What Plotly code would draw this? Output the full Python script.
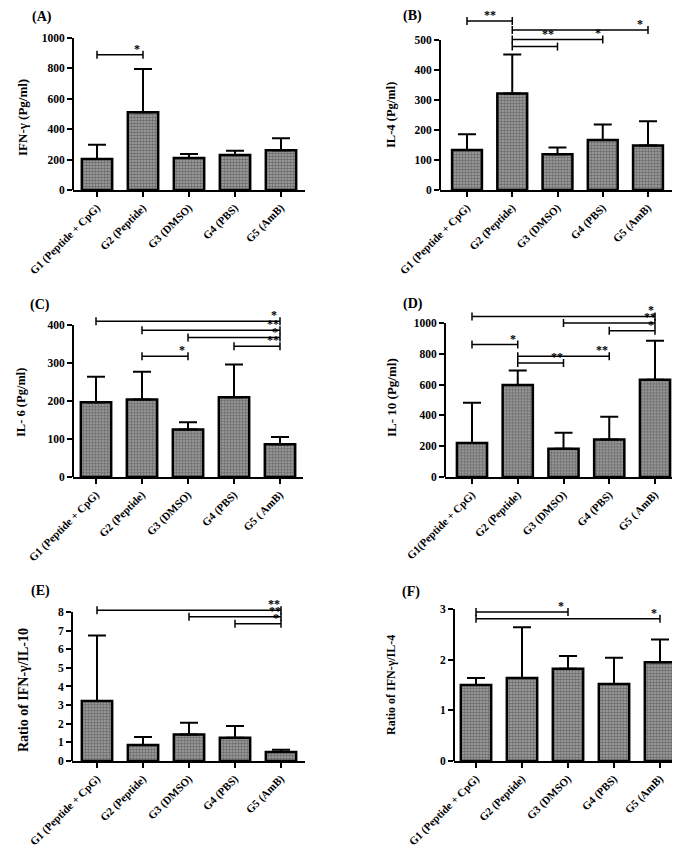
import plotly.graph_objects as go

W, H = 680, 848
FONT = "Liberation Serif"

# ---------------- data ----------------
groups_std = ["G1 (Peptide + CpG)", "G2 (Peptide)", "G3 (DMSO)", "G4 (PBS)", "G5 (AmB)"]
groups_c = ["G1 (Peptide + CpG)", "G2 (Peptide)", "G3 (DMSO)", "G4 (PBS)", "G5 ( AmB)"]
groups_d = ["G1(Peptide + CpG)", "G2 (Peptide)", "G3 (DMSO)", "G4 (PBS)", "G5 ( AmB)"]

ifng_mean = [204, 512, 211, 231, 262]
ifng_sd = [93, 284, 26, 28, 79]
il4_mean = [133, 322, 119, 167, 148]
il4_sd = [53, 130, 23, 51, 81]
il6_mean = [197, 204, 125, 210, 86]
il6_sd = [67, 73, 19, 86, 19]
il10_mean = [220, 598, 184, 244, 631]
il10_sd = [262, 93, 103, 147, 254]
ratio_il10_mean = [3.22, 0.86, 1.42, 1.25, 0.48]
ratio_il10_sd = [3.52, 0.43, 0.64, 0.63, 0.13]
ratio_il4_mean = [1.50, 1.64, 1.82, 1.52, 1.95]
ratio_il4_sd = [0.14, 1.00, 0.25, 0.52, 0.45]

# significance comparisons: (group i, group j, bracket level, label)
comps_a = [(0, 1, 890, "*")]
comps_b = [(0, 1, 563, "**"), (1, 4, 533, "*"), (1, 3, 502, "*"), (1, 2, 478, "**")]
comps_c = [(0, 4, 410, "*"), (1, 4, 386, "**"), (2, 4, 367, "*"), (3, 4, 344, "**"), (1, 2, 318, "*")]
comps_d = [(0, 4, 1043, "*"), (2, 4, 1000, "**"), (3, 4, 950, "*"), (0, 1, 860, "*"),
           (1, 3, 784, "**"), (1, 2, 741, "**")]
comps_e = [(0, 4, 8.1, "**"), (2, 4, 7.75, "**"), (3, 4, 7.37, "*")]
comps_f = [(0, 2, 2.94, "*"), (0, 4, 2.81, "*")]

# ---------------- styling / placement ----------------
panels = [
    dict(letter="(A)", cats=groups_std, mean=ifng_mean, sd=ifng_sd, ytitle="IFN-γ (Pg/ml)", tsize=13,
         top=1000, dtick=200, comps=comps_a, lab=[(0.86, 0)],
         px=(65, 297, 89, 273, 182, 30), tpx=(14, 110), lpx=(22, 9)),
    dict(letter="(B)", cats=groups_std, mean=il4_mean, sd=il4_sd, ytitle="IL-4 (Pg/ml)", tsize=12.5,
         top=500, dtick=100, comps=comps_b, lab=[(0.5, 0), (0.94, 0), (0.95, 0), (0.78, 7)],
         px=(432, 665, 459, 640, 182, 32), tpx=(383, 107), lpx=(393, 8)),
    dict(letter="(C)", cats=groups_c, mean=il6_mean, sd=il6_sd, ytitle="IL- 6 (Pg/ml)", tsize=12.5,
         top=400, dtick=100, comps=comps_c, lab=[(0.97, 0), (0.95, 0), (0.95, 0), (0.85, 0), (0.86, 0)],
         px=(65, 295, 88, 272, 469, 317), tpx=(13, 395), lpx=(20, 297)),
    dict(letter="(D)", cats=groups_d, mean=il10_mean, sd=il10_sd, ytitle="IL- 10 (Pg/ml)", tsize=13,
         top=1000, dtick=200, comps=comps_d, lab=[(0.98, 0), (0.94, 0), (0.91, 0), (0.89, 0), (0.92, 0), (0.85, 0)],
         px=(437, 670, 464, 647, 469, 315), tpx=(383, 390), lpx=(393, 296)),
    dict(letter="(E)", cats=groups_std, mean=ratio_il10_mean, sd=ratio_il10_sd, ytitle="Ratio of IFN-γ/IL-10", tsize=14,
         top=8, dtick=1, comps=comps_e, lab=[(0.96, 0), (0.93, 0), (0.9, 0)],
         px=(64, 297, 89, 273, 753, 604), tpx=(15, 682), lpx=(21, 583)),
    dict(letter="(F)", cats=groups_std, mean=ratio_il4_mean, sd=ratio_il4_sd, ytitle="Ratio of IFN-γ/IL-4", tsize=12,
         top=3, dtick=1, comps=comps_f, lab=[(0.92, 0), (0.97, 0)],
         px=(446, 673, 468, 652, 753, 601), tpx=(383, 677), lpx=(392, 584)),
]

fig = go.Figure()
layout = dict(width=W, height=H, margin=dict(l=0, r=0, t=0, b=0),
              paper_bgcolor="white", plot_bgcolor="white", showlegend=False,
              font=dict(family=FONT, color="black"))
annotations = []
shapes = []

for k, p in enumerate(panels, start=1):
    xa = "x" if k == 1 else f"x{k}"
    ya = "y" if k == 1 else f"y{k}"
    xl, xr, c1, c5, y0, ytop = p["px"]
    s = (c5 - c1) / 4.0
    ppu = (y0 - ytop) / p["top"]
    d = 4.0 / ppu
    levels = [c[2] for c in p["comps"]]
    rtop = max(p["top"], max(levels) + 6.0 / ppu)
    xrange = [(xl - c1) / s, 4 + (xr - c5) / s]
    dom_top_px = y0 - rtop * ppu
    xs = list(range(len(p["cats"])))

    fig.add_trace(go.Bar(
        x=xs, y=p["mean"], width=0.66, xaxis=xa, yaxis=ya, hoverinfo="skip",
        error_y=dict(type="data", array=p["sd"], arrayminus=[0] * len(xs), symmetric=False,
                     color="black", thickness=2, width=9),
        marker=dict(color="#8c8c8c", line=dict(color="black", width=2.5),
                    pattern=dict(shape=".", fgcolor="#2e2e2e", bgcolor="#a6a6a6", size=3, solidity=0.55)),
    ))

    for (i, j, lvl, lab), (frac, dy) in zip(p["comps"], p["lab"]):
        fig.add_trace(go.Scatter(
            x=[i, i, None, i, j, None, j, j],
            y=[lvl - d, lvl + d, None, lvl, lvl, None, lvl - d, lvl + d],
            mode="lines", line=dict(color="black", width=1.5),
            xaxis=xa, yaxis=ya, hoverinfo="skip", cliponaxis=False))
        annotations.append(dict(x=i + frac * (j - i), y=lvl, xref=xa, yref=ya, text=lab,
                                showarrow=False, yanchor="bottom", xanchor="center",
                                yshift=-3 + dy,
                                font=dict(family=FONT, size=12, weight="bold", color="black")))

    layout["xaxis" if k == 1 else f"xaxis{k}"] = dict(
        domain=[xl / W, xr / W], range=xrange, anchor=ya,
        tickvals=xs, ticktext=p["cats"], tickangle=-45,
        ticks="outside", ticklen=5, tickwidth=2, tickcolor="black",
        showline=True, linewidth=2, linecolor="black",
        showgrid=False, zeroline=False, automargin=False, fixedrange=True,
        tickfont=dict(family=FONT, size=11, weight="bold", color="black"))
    tv = [p["dtick"] * n for n in range(int(round(p["top"] / p["dtick"])) + 1)]
    layout["yaxis" if k == 1 else f"yaxis{k}"] = dict(
        domain=[1 - y0 / H, 1 - dom_top_px / H], range=[0, rtop], anchor=xa,
        tickvals=tv, ticktext=[f"{v:g}" for v in tv],
        ticks="outside", ticklen=5, tickwidth=2, tickcolor="black",
        showline=False, showgrid=False, zeroline=False, automargin=False, fixedrange=True,
        tickfont=dict(family=FONT, size=11.5, weight="bold", color="black"))

    shapes.append(dict(type="line", xref=f"{xa} domain", yref=f"{ya} domain",
                       x0=0, x1=0, y0=0, y1=p["top"] / rtop,
                       line=dict(color="black", width=2)))

    annotations.append(dict(x=p["tpx"][0] / W, y=1 - p["tpx"][1] / H, xref="paper", yref="paper",
                            text=p["ytitle"], textangle=-90, showarrow=False,
                            xanchor="center", yanchor="middle",
                            font=dict(family=FONT, size=p["tsize"], weight="bold", color="black")))
    annotations.append(dict(x=p["lpx"][0] / W, y=1 - p["lpx"][1] / H, xref="paper", yref="paper",
                            text=p["letter"], showarrow=False, xanchor="left", yanchor="middle",
                            font=dict(family=FONT, size=14, weight="bold", color="black")))

layout["annotations"] = annotations
layout["shapes"] = shapes
fig.update_layout(**layout)
fig.write_html("out.html")
